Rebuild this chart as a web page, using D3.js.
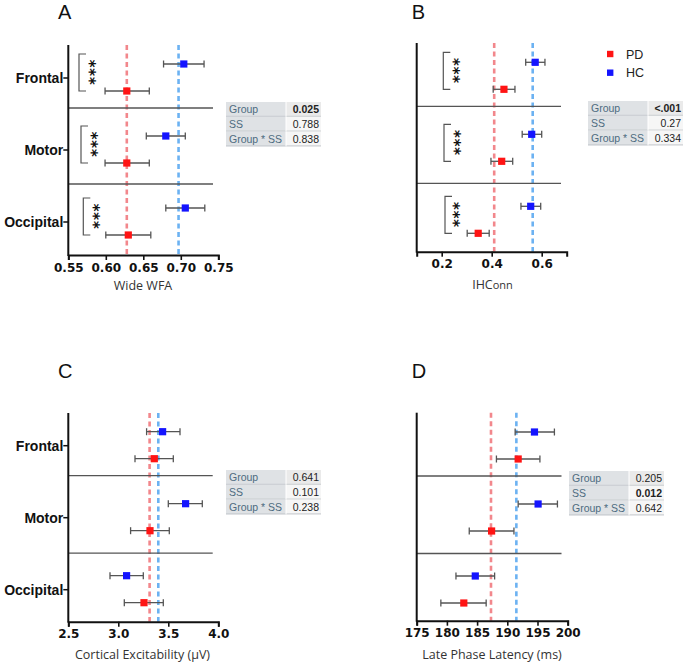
<!DOCTYPE html>
<html>
<head>
<meta charset="utf-8">
<script src="https://cdn.jsdelivr.net/npm/d3@7"></script>
<style>
  html, body { margin: 0; padding: 0; background: #fff; }
  svg { display: block; }
</style>
</head>
<body>
<svg id="chart" width="685" height="665"></svg>
<script>
// ---------------- DATA ----------------
const categories = ["Frontal", "Motor", "Occipital"];
const groups = ["HC", "PD"];
const statLabels = ["Group", "SS", "Group * SS"];
const sigLabel = "***";

// Panel A – Wide WFA
const wfaPD   = [0.628, 0.628, 0.630];
const wfaPDLo = [0.599, 0.599, 0.600];
const wfaPDHi = [0.658, 0.658, 0.660];
const wfaHC   = [0.704, 0.680, 0.706];
const wfaHCLo = [0.677, 0.654, 0.680];
const wfaHCHi = [0.731, 0.706, 0.732];
const wfaRef  = [0.628, 0.697];           // PD, HC grand means
const wfaTicks = [0.55, 0.60, 0.65, 0.70, 0.75];
const wfaStats = ["0.025", "0.788", "0.838"];

// Panel B – IHConn
const ihcPD   = [0.449, 0.440, 0.346];
const ihcPDLo = [0.406, 0.397, 0.302];
const ihcPDHi = [0.493, 0.484, 0.390];
const ihcHC   = [0.574, 0.560, 0.556];
const ihcHCLo = [0.536, 0.522, 0.517];
const ihcHCHi = [0.613, 0.600, 0.596];
const ihcRef  = [0.410, 0.564];
const ihcTicks = [0.2, 0.4, 0.6];
const ihcStats = ["<.001", "0.27", "0.334"];

// Panel C – Cortical Excitability
const cePD   = [3.360, 3.317, 3.257];
const cePDLo = [3.167, 3.123, 3.060];
const cePDHi = [3.550, 3.510, 3.450];
const ceHC   = [3.443, 3.673, 3.083];
const ceHCLo = [3.283, 3.500, 2.917];
const ceHCHi = [3.617, 3.840, 3.250];
const ceRef  = [3.313, 3.400];
const ceTicks = [2.5, 3.0, 3.5, 4.0];
const ceStats = ["0.641", "0.101", "0.238"];

// Panel D – Late Phase Latency
const lplPD   = [191.8, 187.4, 182.8];
const lplPDLo = [188.2, 183.7, 179.0];
const lplPDHi = [195.4, 191.1, 186.5];
const lplHC   = [194.5, 195.1, 184.7];
const lplHCLo = [191.3, 191.8, 181.5];
const lplHCHi = [197.8, 198.3, 187.9];
const lplRef  = [187.3, 191.5];
const lplTicks = [175, 180, 185, 190, 195, 200];
const lplStats = ["0.205", "0.012", "0.642"];

// ---------------- STYLE ----------------
const RED = "#ff1414", BLUE = "#1414ff";
const RED_REF = "#f2878c", BLUE_REF = "#6cb2f2";
const GREY = "#555";

const svg = d3.select("#chart");

function panel(cfg) {
  const g = svg.append("g");
  const x = d3.scaleLinear().domain(cfg.domain).range(cfg.xr);
  const y = d3.scaleBand().domain(categories).range(cfg.yr);
  const off = d3.scalePoint().domain(groups).range([-14, 13]);

  const series = [
    { grp: "HC", color: BLUE, m: cfg.hc, lo: cfg.hcLo, hi: cfg.hcHi },
    { grp: "PD", color: RED,  m: cfg.pd, lo: cfg.pdLo, hi: cfg.pdHi }
  ];

  // panel letter
  g.append("text").attr("x", cfg.letterX).attr("y", cfg.letterY)
    .attr("font-family", "Liberation Sans, Arial, sans-serif")
    .attr("font-size", 20).attr("fill", "#111").text(cfg.letter);

  // reference dashed lines
  [[cfg.ref[0], RED_REF], [cfg.ref[1], BLUE_REF]].forEach(([v, c]) => {
    g.append("line").attr("x1", x(v)).attr("x2", x(v))
      .attr("y1", cfg.axTop).attr("y2", cfg.axBot)
      .attr("stroke", c).attr("stroke-width", 2.6)
      .attr("stroke-dasharray", "5,3.5");
  });

  // separators
  cfg.sepOff.forEach((o, i) => {
    const yy = y(categories[i + 1]) - o;
    g.append("line").attr("x1", x(cfg.domain[0])).attr("x2", cfg.sepEnd)
      .attr("y1", yy).attr("y2", yy)
      .attr("stroke", GREY).attr("stroke-width", 1.3);
  });

  // significance brackets (three stacked asterisks drawn as one rotated label)
  if (cfg.brackets) {
    categories.forEach((c, i) => {
      const yc = y(c) + y.bandwidth() / 2;
      const y1 = yc - 24, y2 = yc + 13;
      const bx = cfg.brX[i];
      g.append("path")
        .attr("d", `M${bx + 7},${y1}H${bx}V${y2}H${bx + 7}`)
        .attr("fill", "none").attr("stroke", GREY).attr("stroke-width", 1.2);
      const ax = cfg.astX[i] - 8.4, ay = yc - 5.7;
      g.append("text").attr("x", ax).attr("y", ay)
        .attr("transform", `rotate(90,${ax},${ay})`)
        .attr("text-anchor", "middle")
        .attr("textLength", 25.2).attr("lengthAdjust", "spacing")
        .attr("font-family", "DejaVu Sans, sans-serif")
        .attr("font-weight", "bold").attr("font-size", 15)
        .attr("fill", "#111").text(sigLabel);
    });
  }

  // error bars and markers
  series.forEach(s => {
    categories.forEach((c, i) => {
      const yy = y(c) + y.bandwidth() / 2 + off(s.grp);
      const x1 = x(s.lo[i]), x2 = x(s.hi[i]);
      g.append("line").attr("x1", x1).attr("x2", x2).attr("y1", yy).attr("y2", yy)
        .attr("stroke", GREY).attr("stroke-width", 1.3);
      [x1, x2].forEach(xx => g.append("line").attr("x1", xx).attr("x2", xx)
        .attr("y1", yy - 3.5).attr("y2", yy + 3.5)
        .attr("stroke", GREY).attr("stroke-width", 1.3));
      g.append("rect").attr("x", x(s.m[i]) - 3.6).attr("y", yy - 3.6)
        .attr("width", 7.2).attr("height", 7.2).attr("fill", s.color);
    });
  });

  // x axis
  const xa = g.append("g").attr("transform", `translate(0,${cfg.axBot})`)
    .call(d3.axisBottom(x).tickValues(cfg.ticks).tickFormat(d3.format(cfg.fmt))
      .tickSizeOuter(0).tickSize(5).tickPadding(3));
  xa.select(".domain").attr("stroke", "#111").attr("stroke-width", 2);
  xa.selectAll(".tick line").attr("stroke", "#111").attr("stroke-width", 1.6);
  xa.selectAll(".tick text").attr("font-family", "DejaVu Sans, sans-serif")
    .attr("font-weight", "bold").attr("font-size", 12).attr("fill", "#111");

  // y axis line
  g.append("line").attr("x1", cfg.xr[0]).attr("x2", cfg.xr[0])
    .attr("y1", cfg.axTop).attr("y2", cfg.axBot + 1)
    .attr("stroke", "#111").attr("stroke-width", 2);
  if (cfg.yLabels) {
    categories.forEach(c => {
      const yc = y(c) + y.bandwidth() / 2;
      g.append("line").attr("x1", cfg.xr[0] - 5).attr("x2", cfg.xr[0])
        .attr("y1", yc).attr("y2", yc).attr("stroke", "#111").attr("stroke-width", 1.5);
      g.append("text").attr("x", cfg.xr[0] - 5).attr("y", yc + 5)
        .attr("text-anchor", "end")
        .attr("font-family", "Liberation Sans, Arial, sans-serif")
        .attr("font-weight", "bold").attr("font-size", 14).attr("fill", "#111").text(c);
    });
  }

  // axis title
  const t = g.append("text").attr("x", cfg.titleX).attr("y", cfg.titleY)
    .attr("text-anchor", "middle")
    .attr("font-family", "Open Sans, sans-serif")
    .attr("font-size", 12.5).attr("fill", "#333");
  cfg.title.forEach(p => t.append("tspan").attr("font-size", p[1]).text(p[0]));

  // stats table
  const tb = g.append("g").attr("transform", `translate(${cfg.tabX},${cfg.tabY})`);
  const rowH = 14.8, c1 = 60, c2 = 35;
  statLabels.forEach((lab, i) => {
    tb.append("rect").attr("x", 0).attr("y", i * rowH).attr("width", c1).attr("height", rowH)
      .attr("fill", "#dfe2e5");
    tb.append("rect").attr("x", c1).attr("y", i * rowH).attr("width", c2).attr("height", rowH)
      .attr("fill", i === 0 ? "#eaeaea" : "#f6f6f6");
    tb.append("line").attr("x1", 0).attr("x2", c1 + c2)
      .attr("y1", (i + 1) * rowH - 0.5).attr("y2", (i + 1) * rowH - 0.5)
      .attr("stroke", "#c4c8cc").attr("stroke-width", 1);
    tb.append("line").attr("x1", c1).attr("x2", c1)
      .attr("y1", i * rowH).attr("y2", (i + 1) * rowH)
      .attr("stroke", "#fff").attr("stroke-width", 1);
    tb.append("text").attr("x", 3).attr("y", i * rowH + 11)
      .attr("font-family", "Liberation Sans, Arial, sans-serif")
      .attr("font-size", 10.5).attr("fill", "#4d6b80").text(lab);
    tb.append("text").attr("x", c1 + c2 - 2).attr("y", i * rowH + 11)
      .attr("text-anchor", "end")
      .attr("font-family", "Liberation Sans, Arial, sans-serif")
      .attr("font-weight", cfg.bold === i ? "bold" : "normal")
      .attr("font-size", 10.5).attr("fill", "#222").text(cfg.stats[i]);
  });
}

panel({
  letter: "A", letterX: 58, letterY: 19,
  domain: [0.55, 0.75], xr: [68.3, 218.3], yr: [42, 258], axTop: 45, axBot: 255,
  sepEnd: 213, sepOff: [6, 2],
  pd: wfaPD, pdLo: wfaPDLo, pdHi: wfaPDHi, hc: wfaHC, hcLo: wfaHCLo, hcHi: wfaHCHi,
  ref: wfaRef, ticks: wfaTicks, fmt: ".2f", yLabels: true,
  brackets: true, brX: [79, 81, 83.3], astX: [92.3, 94.3, 96],
  title: [["Wide WFA", 12.5]], titleX: 143, titleY: 290,
  tabX: 226, tabY: 102, stats: wfaStats, bold: 0
});

panel({
  letter: "B", letterX: 411.7, letterY: 19,
  domain: [0.1, 0.7], xr: [416.7, 566.7], yr: [40.3, 256.3], axTop: 43, axBot: 251.7,
  sepEnd: 561, sepOff: [6, 1],
  pd: ihcPD, pdLo: ihcPDLo, pdHi: ihcPDHi, hc: ihcHC, hcLo: ihcHCLo, hcHi: ihcHCHi,
  ref: ihcRef, ticks: ihcTicks, fmt: ".1f", yLabels: false,
  brackets: true, brX: [443.3, 444, 445], astX: [456, 457.3, 456.7],
  title: [["IHC", 12.5], ["onn", 11]], titleX: 492.5, titleY: 289,
  tabX: 588, tabY: 101, stats: ihcStats, bold: 0
});

panel({
  letter: "C", letterX: 58, letterY: 378,
  domain: [2.5, 4.0], xr: [68.3, 218.3], yr: [409.7, 625.7], axTop: 413, axBot: 621.7,
  sepEnd: 212.7, sepOff: [6, 0.5],
  pd: cePD, pdLo: cePDLo, pdHi: cePDHi, hc: ceHC, hcLo: ceHCLo, hcHi: ceHCHi,
  ref: ceRef, ticks: ceTicks, fmt: ".1f", yLabels: true, brackets: false,
  title: [["Cortical Excitability (μV)", 12.5]], titleX: 142.5, titleY: 659,
  tabX: 226, tabY: 470, stats: ceStats, bold: -1
});

panel({
  letter: "D", letterX: 411.7, letterY: 378,
  domain: [175, 200], xr: [416.7, 567.7], yr: [410, 626], axTop: 412.7, axBot: 620.7,
  sepEnd: 561.5, sepOff: [6, 0.5],
  pd: lplPD, pdLo: lplPDLo, pdHi: lplPDHi, hc: lplHC, hcLo: lplHCLo, hcHi: lplHCHi,
  ref: lplRef, ticks: lplTicks, fmt: "d", yLabels: false, brackets: false,
  title: [["Late Phase Latency (ms)", 12.5]], titleX: 492, titleY: 659,
  tabX: 569, tabY: 471, stats: lplStats, bold: 1
});

// legend (panel B)
const legend = svg.append("g");
[["PD", RED, 54], ["HC", BLUE, 72.7]].forEach(([lab, col, yy]) => {
  legend.append("rect").attr("x", 607).attr("y", yy - 3.2).attr("width", 6.4).attr("height", 6.4)
    .attr("fill", col);
  legend.append("text").attr("x", 626).attr("y", yy + 4.5)
    .attr("font-family", "Liberation Sans, Arial, sans-serif")
    .attr("font-size", 12.5).attr("fill", "#222").text(lab);
});
</script>
</body>
</html>
